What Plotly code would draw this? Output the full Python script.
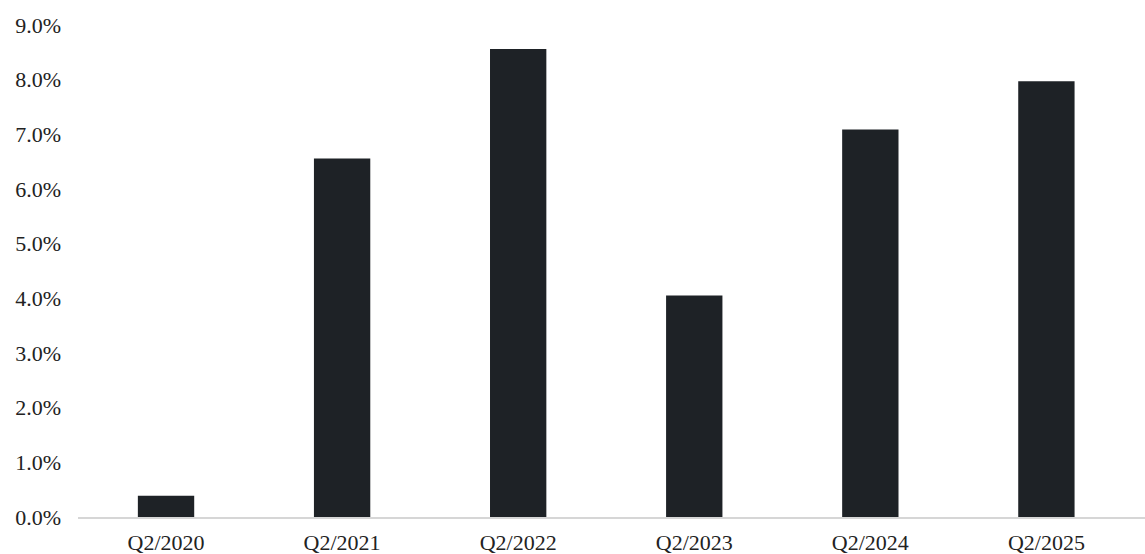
import plotly.graph_objects as go

categories = ["Q2/2020", "Q2/2021", "Q2/2022", "Q2/2023", "Q2/2024", "Q2/2025"]
values = [0.39, 6.56, 8.56, 4.05, 7.09, 7.97]
y_tick_values = [0, 1, 2, 3, 4, 5, 6, 7, 8, 9]
y_tick_labels = ["0.0%", "1.0%", "2.0%", "3.0%", "4.0%", "5.0%", "6.0%", "7.0%", "8.0%", "9.0%"]

fig = go.Figure(
    go.Bar(
        x=categories,
        y=values,
        marker=dict(color="#1e2226", line=dict(width=0)),
        width=0.32,
    )
)

font = dict(family="Liberation Serif, Times New Roman, serif", size=22, color="#222222")

fig.update_layout(
    width=1145,
    height=554,
    margin=dict(l=78, r=0, t=25, b=37),
    paper_bgcolor="white",
    plot_bgcolor="white",
    showlegend=False,
    font=font,
)
fig.update_xaxes(
    range=[-0.5, 5.56],
    showgrid=False,
    showline=True,
    linecolor="#d6d6d6",
    linewidth=2,
    ticks="",
    tickfont=font,
    ticklabelstandoff=5,
    zeroline=False,
)
fig.update_yaxes(
    range=[0, 9],
    tickvals=y_tick_values,
    ticktext=y_tick_labels,
    showgrid=False,
    showline=False,
    zeroline=False,
    ticks="",
    tickfont=font,
    ticklabelstandoff=16,
)

fig.write_html(
    "out.html",
    config={"displayModeBar": False},
    post_script="document.body.style.margin='0';document.body.style.overflow='hidden';",
)
